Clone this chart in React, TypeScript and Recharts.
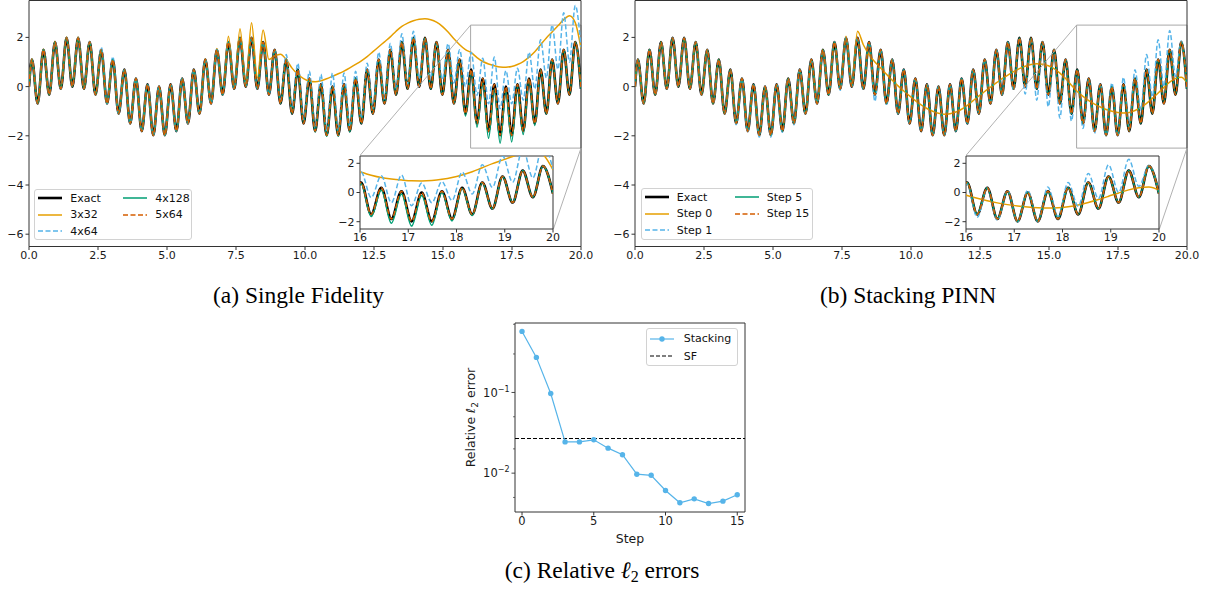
import React from "react";
import { LineChart, Line, XAxis, YAxis, ReferenceArea, ReferenceLine, Legend } from "recharts";

// ---------- data ----------
// x positions of the samples: t = 0, then every crest / trough of the fast wave
const tGrid = [
  0,
  0.105, 0.314, 0.524, 0.733, 0.942, 1.152, 1.361, 1.571, 1.78, 1.99,
  2.199, 2.409, 2.618, 2.827, 3.037, 3.246, 3.456, 3.665, 3.875, 4.084,
  4.294, 4.503, 4.712, 4.922, 5.131, 5.341, 5.55, 5.76, 5.969, 6.178,
  6.388, 6.597, 6.807, 7.016, 7.226, 7.435, 7.645, 7.854, 8.063, 8.273,
  8.482, 8.692, 8.901, 9.111, 9.32, 9.53, 9.739, 9.948, 10.158, 10.367,
  10.577, 10.786, 10.996, 11.205, 11.414, 11.624, 11.833, 12.043, 12.252, 12.462,
  12.671, 12.881, 13.09, 13.299, 13.509, 13.718, 13.928, 14.137, 14.347, 14.556,
  14.765, 14.975, 15.184, 15.394, 15.603, 15.813, 16.022, 16.232, 16.441, 16.65,
  16.86, 17.069, 17.279, 17.488, 17.698, 17.907, 18.117, 18.326, 18.535, 18.745,
  18.954, 19.164, 19.373, 19.583, 19.792, 20.0,
];

const exact = [
  0,
  1.1, -0.69, 1.5, -0.33, 1.81, -0.09, 1.98, 0.0, 1.98, -0.09,
  1.81, -0.33, 1.5, -0.69, 1.1, -1.1, 0.69, -1.5, 0.33, -1.81,
  0.09, -1.98, 0.0, -1.98, 0.09, -1.81, 0.33, -1.5, 0.69, -1.1,
  1.1, -0.69, 1.5, -0.33, 1.81, -0.09, 1.98, 0.0, 1.98, -0.09,
  1.81, -0.33, 1.5, -0.69, 1.1, -1.1, 0.69, -1.5, 0.33, -1.81,
  0.09, -1.98, 0.0, -1.98, 0.09, -1.81, 0.33, -1.5, 0.69, -1.1,
  1.1, -0.69, 1.5, -0.33, 1.81, -0.09, 1.98, 0.0, 1.98, -0.09,
  1.81, -0.33, 1.5, -0.69, 1.1, -1.1, 0.69, -1.5, 0.33, -1.81,
  0.09, -1.98, 0.0, -1.98, 0.09, -1.81, 0.33, -1.5, 0.69, -1.1,
  1.1, -0.69, 1.5, -0.33, 1.81, -0.09,
];

// (a) single fidelity
const sf3x32 = [
  0,
  1.12, -0.69, 1.52, -0.33, 1.84, -0.09, 2.02, 0.0, 2.02, -0.09,
  1.83, -0.33, 1.52, -0.69, 1.1, -1.1, 0.69, -1.5, 0.33, -1.81,
  0.09, -1.98, 0.0, -1.98, 0.09, -1.81, 0.33, -1.5, 0.69, -1.1,
  1.12, -0.69, 1.55, -0.33, 2.05, -0.05, 2.35, 0.15, 2.6, 0.35,
  2.3, 1.1, 1.25, 1.32, 1.1, 0.75, 0.5, 0.32, 0.22, 0.2,
  0.24, 0.32, 0.42, 0.52, 0.63, 0.76, 0.9, 1.05, 1.22, 1.42,
  1.62, 1.82, 2.02, 2.25, 2.45, 2.58, 2.68, 2.74, 2.76, 2.72,
  2.62, 2.45, 2.22, 1.95, 1.7, 1.5, 1.38, 1.18, 1.02, 0.92,
  0.85, 0.8, 0.79, 0.82, 0.9, 1.02, 1.2, 1.42, 1.7, 1.98,
  2.22, 2.47, 2.72, 2.88, 2.6, 1.55,
];

const sf4x64 = [
  0,
  1.1, -0.69, 1.5, -0.33, 1.81, -0.09, 1.98, 0.0, 1.98, -0.09,
  1.81, -0.33, 1.6, -0.69, 1.22, -1.1, 0.69, -1.5, 0.33, -1.81,
  0.09, -1.98, 0.0, -1.98, 0.09, -1.81, 0.33, -1.5, 0.69, -1.1,
  1.1, -0.69, 1.5, -0.33, 1.81, -0.09, 1.98, 0.0, 1.98, -0.09,
  1.81, -0.33, 1.5, -0.6, 1.3, -0.95, 0.95, -1.35, 0.62, -1.7,
  0.5, -1.85, 0.55, -1.85, 0.55, -1.65, 0.62, -1.3, 0.95, -0.9,
  1.4, -0.5, 1.75, -0.15, 2.15, 0.1, 2.25, 0.3, 1.95, 0.35,
  1.7, 0.3, 1.75, 0.15, 1.5, 0.0, 1.4, -0.35, 1.15, -0.7,
  1.2, -0.9, 0.65, -0.7, 0.75, -0.55, 1.4, -0.1, 1.9, 0.35,
  2.5, 0.7, 3.0, 1.0, 3.3, 1.6,
];

const sf4x128 = [
  0,
  1.1, -0.69, 1.5, -0.33, 1.81, -0.09, 1.98, 0.0, 1.98, -0.09,
  1.81, -0.33, 1.5, -0.69, 1.1, -1.1, 0.69, -1.5, 0.33, -1.81,
  0.09, -1.98, 0.0, -1.98, 0.09, -1.81, 0.33, -1.5, 0.69, -1.1,
  1.1, -0.69, 1.5, -0.33, 1.81, -0.09, 1.98, 0.0, 1.98, -0.09,
  1.81, -0.33, 1.5, -0.69, 1.1, -1.1, 0.69, -1.5, 0.33, -1.85,
  0.09, -2.02, 0.0, -2.02, 0.09, -1.85, 0.33, -1.5, 0.69, -1.1,
  1.1, -0.69, 1.5, -0.33, 1.81, -0.09, 1.98, 0.0, 1.98, -0.09,
  1.81, -0.33, 1.5, -0.69, 1.05, -1.2, 0.6, -1.65, 0.15, -2.1,
  -0.1, -2.3, -0.2, -2.25, 0.0, -1.95, 0.28, -1.58, 0.66, -1.12,
  1.1, -0.69, 1.5, -0.33, 1.81, -0.09,
];

// 5x64 lies on the exact curve over the whole range
const sf5x64 = exact;

// (b) stacking PINN
const stackStep0 = [
  0,
  1.1, -0.69, 1.5, -0.33, 1.81, -0.09, 1.98, 0.0, 1.98, -0.09,
  1.81, -0.33, 1.5, -0.69, 1.1, -1.1, 0.69, -1.5, 0.33, -1.81,
  0.09, -1.98, 0.0, -1.98, 0.09, -1.81, 0.33, -1.5, 0.69, -1.1,
  1.1, -0.69, 1.5, -0.33, 1.81, -0.09, 2.05, 0.1, 2.25, 1.7,
  1.3, 1.0, 0.76, 0.5, 0.26, 0.03, -0.18, -0.38, -0.57, -0.74,
  -0.89, -1.0, -1.08, -1.12, -1.1, -1.03, -0.92, -0.76, -0.57, -0.38,
  -0.2, -0.02, 0.15, 0.32, 0.47, 0.61, 0.73, 0.83, 0.9, 0.93,
  0.91, 0.85, 0.73, 0.55, 0.33, 0.05, -0.2, -0.4, -0.57, -0.71,
  -0.83, -0.93, -1.0, -1.05, -1.07, -1.05, -0.97, -0.85, -0.68, -0.48,
  -0.26, -0.03, 0.18, 0.33, 0.38, 0.15,
];

const stackStep1 = [
  0,
  1.1, -0.69, 1.5, -0.33, 1.81, -0.09, 1.98, 0.0, 1.98, -0.09,
  1.81, -0.33, 1.5, -0.69, 1.1, -1.1, 0.69, -1.55, 0.33, -1.86,
  0.09, -2.05, 0.0, -2.05, 0.09, -1.86, 0.33, -1.55, 0.69, -1.1,
  1.1, -0.69, 1.5, -0.33, 1.81, -0.15, 1.98, 0.0, 1.98, -0.09,
  1.81, -0.6, 1.5, -0.72, 1.1, -1.1, 0.69, -1.5, 0.33, -1.81,
  0.09, -1.98, 0.0, -1.98, 0.09, -1.81, 0.33, -1.5, 0.69, -1.1,
  1.1, -0.69, 1.5, -0.33, 1.81, -0.15, 1.98, -0.3, 1.98, -0.55,
  1.81, -0.82, 1.5, -1.28, 1.1, -1.4, 0.62, -1.7, 0.3, -1.9,
  0.12, -2.0, 0.15, -2.0, 0.38, -1.65, 0.68, -0.95, 1.3, -0.42,
  1.9, 0.0, 2.28, 0.42, 1.85, -0.05,
];

// step 5 and step 15 sit on the exact curve
const stackStep5 = exact;
const stackStep15 = exact;

// (c) relative l2 errors
const steps = [0, 1, 2, 3, 4, 5, 6, 7, 8, 9, 10, 11, 12, 13, 14, 15];
const stackingErr = [
  0.571, 0.272, 0.097, 0.0244, 0.0244, 0.0259, 0.0204, 0.0169, 0.0097, 0.0094, 0.0061, 0.0043, 0.0048,
  0.0042, 0.0045, 0.0054,
];
const sfErr = 0.0269;

const mainXTicks = [0, 2.5, 5, 7.5, 10, 12.5, 15, 17.5, 20];
const mainYTicks = [-6, -4, -2, 0, 2];
const insetXTicks = [16, 17, 18, 19, 20];
const insetYTicks = [-2, 0, 2];
const stepTicks = [0, 5, 10, 15];
const logMajor = [0.01, 0.1];
const logTicks = [
  0.004, 0.005, 0.006, 0.007, 0.008, 0.009, 0.01, 0.02, 0.03, 0.04, 0.05, 0.06, 0.07, 0.08, 0.09, 0.1,
  0.2, 0.3, 0.4, 0.5, 0.6, 0.7,
];

// ---------- styling ----------
const FRAME = "#333";
const ZOOM_GRAY = "#a8a8a8";
const TICK_FONT = { fontSize: 11, fill: "#1a1a1a", fontFamily: "DejaVu Sans" };

type Series = { key: string; name: string; color: string; width: number; dash?: string; marker?: boolean };

const seriesA: Series[] = [
  { key: "exact", name: "Exact", color: "#000000", width: 2.6 },
  { key: "s1", name: "3x32", color: "#E69F00", width: 1.5 },
  { key: "s2", name: "4x64", color: "#56B4E9", width: 1.5, dash: "5 2.5" },
  { key: "s3", name: "4x128", color: "#009E73", width: 1.5 },
  { key: "s4", name: "5x64", color: "#D55E00", width: 1.5, dash: "5 2.5" },
];
const seriesB: Series[] = [
  { key: "exact", name: "Exact", color: "#000000", width: 2.6 },
  { key: "s1", name: "Step 0", color: "#E69F00", width: 1.5 },
  { key: "s2", name: "Step 1", color: "#56B4E9", width: 1.5, dash: "5 2.5" },
  { key: "s3", name: "Step 5", color: "#009E73", width: 1.5 },
  { key: "s4", name: "Step 15", color: "#D55E00", width: 1.5, dash: "5 2.5" },
];

const rowsA = tGrid.map((t, i) => ({ t, exact: exact[i], s1: sf3x32[i], s2: sf4x64[i], s3: sf4x128[i], s4: sf5x64[i] }));
const rowsB = tGrid.map((t, i) => ({
  t,
  exact: exact[i],
  s1: stackStep0[i],
  s2: stackStep1[i],
  s3: stackStep5[i],
  s4: stackStep15[i],
}));
const rowsC = steps.map((s, i) => ({ step: s, err: stackingErr[i] }));

const signed = (v: number) => (v < 0 ? `\u2212${Math.abs(v)}` : `${v}`);

// layout of the two big panels
const MAIN_TOP = 0.5;
const MAIN_W = 552;
const MAIN_H = 246;
const MAIN_YW = 28;
const MAIN_XH = 24;
const MAIN_RIGHT = 16;
const INSET_DX = 331;
const INSET_TOP = 155.5;
const INSET_W = 193;
const INSET_H = 73;
const INSET_YW = 30;
const INSET_XH = 18;

type LegendSpec = {
  cols: Series[][];
  colX: number[];
  textX: number;
  rowH: number;
  padTop: number;
  w: number;
  h: number;
};

function LegendBox({ spec }: { spec: LegendSpec }) {
  return (
    <div
      style={{
        position: "relative",
        width: spec.w,
        height: spec.h,
        boxSizing: "border-box",
        border: "1px solid #d2d2d2",
        borderRadius: 3,
        background: "rgba(255,255,255,0.85)",
        fontFamily: "DejaVu Sans",
        fontSize: 11,
        color: "#111",
      }}
    >
      {spec.cols.map((col, ci) =>
        col.map((s, ri) => (
          <div
            key={s.name}
            style={{
              position: "absolute",
              left: spec.colX[ci],
              top: spec.padTop + ri * spec.rowH,
              height: spec.rowH,
              display: "flex",
              alignItems: "center",
              whiteSpace: "nowrap",
            }}
          >
            <svg width={24} height={10} style={{ display: "block" }}>
              <line x1={0} x2={24} y1={5} y2={5} stroke={s.color} strokeWidth={s.width} strokeDasharray={s.dash} />
              {s.marker && <circle cx={12} cy={5} r={2.7} fill={s.color} />}
            </svg>
            <span style={{ marginLeft: spec.textX - 24, lineHeight: 1 }}>{s.name}</span>
          </div>
        ))
      )}
    </div>
  );
}

function seriesLines(series: Series[]) {
  return series.map((s) => (
    <Line
      key={s.key}
      type="monotone"
      dataKey={s.key}
      stroke={s.color}
      strokeWidth={s.width}
      strokeDasharray={s.dash}
      dot={false}
      activeDot={false}
      isAnimationActive={false}
    />
  ));
}

function MainPanel({
  plotLeft,
  rows,
  series,
  legend,
  legendLeft,
  legendTop,
}: {
  plotLeft: number;
  rows: any[];
  series: Series[];
  legend: LegendSpec;
  legendLeft: number;
  legendTop: number;
}) {
  const insetLeft = plotLeft + INSET_DX;
  return (
    <>
      <div style={{ position: "absolute", left: plotLeft - MAIN_YW, top: 0 }}>
        <LineChart
          width={MAIN_YW + MAIN_W + MAIN_RIGHT}
          height={MAIN_TOP + MAIN_H + MAIN_XH}
          data={rows}
          margin={{ top: MAIN_TOP, right: MAIN_RIGHT, bottom: 0, left: 0 }}
        >
          <XAxis
            dataKey="t"
            type="number"
            domain={[0, 20]}
            ticks={mainXTicks}
            allowDataOverflow
            height={MAIN_XH}
            tickSize={3.5}
            tickMargin={1}
            axisLine={false}
            stroke={FRAME}
            tick={TICK_FONT}
            tickFormatter={(v: number) => v.toFixed(1)}
          />
          <YAxis
            type="number"
            domain={[-6.5, 3.5]}
            ticks={mainYTicks}
            allowDataOverflow
            width={MAIN_YW}
            tickSize={3.5}
            tickMargin={2}
            axisLine={false}
            stroke={FRAME}
            tick={TICK_FONT}
            tickFormatter={signed}
          />
          {seriesLines(series)}
          <ReferenceArea x1={16} x2={20} y1={-2.5} y2={2.5} fill="none" stroke={ZOOM_GRAY} strokeWidth={1} />
          <ReferenceLine
            segment={[
              { x: 16, y: 2.5 },
              { x: 12, y: -2.79 },
            ]}
            stroke={ZOOM_GRAY}
            strokeWidth={0.9}
          />
          <ReferenceLine
            segment={[
              { x: 20, y: -2.5 },
              { x: 19, y: -5.79 },
            ]}
            stroke={ZOOM_GRAY}
            strokeWidth={0.9}
          />
          <ReferenceArea x1={0} x2={20} y1={-6.5} y2={3.5} fill="none" stroke={FRAME} strokeWidth={1} />
          <Legend
            layout="vertical"
            align="center"
            verticalAlign="middle"
            width={legend.w}
            height={legend.h}
            wrapperStyle={{ left: legendLeft - plotLeft + MAIN_YW, top: legendTop, width: legend.w, height: legend.h }}
            content={() => <LegendBox spec={legend} />}
          />
        </LineChart>
      </div>
      <div style={{ position: "absolute", left: insetLeft - INSET_YW, top: INSET_TOP - 3 }}>
        <LineChart
          width={INSET_YW + INSET_W + 10}
          height={3 + INSET_H + INSET_XH}
          data={rows}
          margin={{ top: 3, right: 10, bottom: 0, left: 0 }}
        >
          <XAxis
            dataKey="t"
            type="number"
            domain={[16, 20]}
            ticks={insetXTicks}
            allowDataOverflow
            height={INSET_XH}
            tickSize={3.5}
            tickMargin={1}
            axisLine={false}
            stroke={FRAME}
            tick={TICK_FONT}
          />
          <YAxis
            type="number"
            domain={[-2.5, 2.5]}
            ticks={insetYTicks}
            allowDataOverflow
            width={INSET_YW}
            tickSize={3.5}
            tickMargin={2}
            axisLine={false}
            stroke={FRAME}
            tick={TICK_FONT}
            tickFormatter={signed}
          />
          {seriesLines(series)}
          <ReferenceArea x1={16} x2={20} y1={-2.5} y2={2.5} fill="none" stroke={FRAME} strokeWidth={1} />
        </LineChart>
      </div>
    </>
  );
}

const legendA: LegendSpec = {
  cols: [seriesA.slice(0, 3), seriesA.slice(3)],
  colX: [3, 88],
  textX: 32,
  rowH: 16.3,
  padTop: 0,
  w: 158,
  h: 51,
};
const legendB: LegendSpec = {
  cols: [seriesB.slice(0, 3), seriesB.slice(3)],
  colX: [3, 93],
  textX: 32,
  rowH: 16.3,
  padTop: 0,
  w: 172,
  h: 52,
};
const seriesC: Series[] = [
  { key: "err", name: "Stacking", color: "#56B4E9", width: 1.2, marker: true },
  { key: "sf", name: "SF", color: "#000000", width: 1.2, dash: "4 2" },
];
const legendC: LegendSpec = {
  cols: [seriesC],
  colX: [3],
  textX: 34,
  rowH: 17.3,
  padTop: 1.5,
  w: 92,
  h: 38.5,
};

// log-axis tick: long tick + 10^k label for decades, short tick otherwise
function LogTick(props: any) {
  const { x, y, payload } = props;
  const v = payload.value as number;
  const major = logMajor.includes(v);
  const exp = Math.round(Math.log10(v));
  return (
    <g>
      <line x1={x - (major ? 3.5 : 2)} x2={x} y1={y} y2={y} stroke={FRAME} strokeWidth={major ? 0.9 : 0.7} />
      {major && (
        <text x={x - 5.5} y={y} dy="0.36em" textAnchor="end" fontSize={11.5} fontFamily="DejaVu Sans" fill="#1a1a1a">
          10
          <tspan dy={-5} fontSize={8}>
            {`\u2212${Math.abs(exp)}`}
          </tspan>
        </text>
      )}
    </g>
  );
}

const C_PLOT_LEFT = 514.5;
const C_PLOT_TOP = 322.5;
const C_W = 230;
const C_H = 189;
const C_YW = 62;
const C_XH = 36;

function ErrorPanel() {
  const chartLeft = C_PLOT_LEFT - C_YW;
  const chartTop = C_PLOT_TOP - 10;
  return (
    <div style={{ position: "absolute", left: chartLeft, top: chartTop }}>
      <LineChart width={C_YW + C_W + 10} height={10 + C_H + C_XH} data={rowsC} margin={{ top: 10, right: 10, bottom: 0, left: 0 }}>
        <XAxis
          dataKey="step"
          type="number"
          domain={[-0.49, 15.54]}
          ticks={stepTicks}
          allowDataOverflow
          height={C_XH}
          tickSize={3.5}
          tickMargin={1}
          axisLine={false}
          stroke={FRAME}
          tick={{ ...TICK_FONT, fontSize: 11.5 }}
          label={{
            content: (p: any) => (
              <text
                x={p.viewBox.x + p.viewBox.width / 2}
                y={p.viewBox.y + 31}
                textAnchor="middle"
                fontSize={12.5}
                fontFamily="DejaVu Sans"
                fill="#1a1a1a"
              >
                Step
              </text>
            ),
          }}
        />
        <YAxis
          type="number"
          scale="log"
          domain={[0.0033, 0.726]}
          ticks={logTicks}
          allowDataOverflow
          width={C_YW}
          tickSize={0}
          tickMargin={0}
          tickLine={false}
          axisLine={false}
          tick={LogTick}
          label={{
            content: (p: any) => {
              const cx = p.viewBox.x + 22;
              const cy = p.viewBox.y + p.viewBox.height / 2;
              return (
                <text
                  x={cx}
                  y={cy}
                  transform={`rotate(-90, ${cx}, ${cy})`}
                  textAnchor="middle"
                  fontSize={12.5}
                  fontFamily="DejaVu Sans"
                  fill="#1a1a1a"
                >
                  Relative <tspan fontStyle="italic">ℓ</tspan>
                  <tspan dy={3} fontSize={9}>
                    2
                  </tspan>
                  <tspan dy={-3}> error</tspan>
                </text>
              );
            },
          }}
        />
        <ReferenceLine y={sfErr} stroke="#000" strokeDasharray="4 2" strokeWidth={1.2} />
        <Line
          type="linear"
          dataKey="err"
          stroke="#56B4E9"
          strokeWidth={1.2}
          dot={{ r: 2.7, fill: "#56B4E9", stroke: "#56B4E9", strokeWidth: 0 }}
          activeDot={false}
          isAnimationActive={false}
        />
        <ReferenceArea x1={-0.49} x2={15.54} y1={0.0033} y2={0.726} fill="none" stroke={FRAME} strokeWidth={1} />
        <Legend
          layout="vertical"
          align="center"
          verticalAlign="middle"
          width={legendC.w}
          height={legendC.h}
          wrapperStyle={{ left: 645.7 - chartLeft, top: 327.7 - chartTop, width: legendC.w, height: legendC.h }}
          content={() => <LegendBox spec={legendC} />}
        />
      </LineChart>
    </div>
  );
}

const captionStyle: React.CSSProperties = {
  position: "absolute",
  width: 320,
  textAlign: "center",
  fontFamily: "'Liberation Serif', 'Times New Roman', serif",
  fontSize: 23.5,
  lineHeight: "23.5px",
  color: "#000",
  whiteSpace: "nowrap",
};

export default function App() {
  return (
    <div
      style={{
        position: "absolute",
        left: 0,
        top: 0,
        width: 1208,
        height: 596,
        background: "#fff",
        overflow: "hidden",
        fontFamily: "DejaVu Sans",
      }}
    >
      <MainPanel plotLeft={28.5} rows={rowsA} series={seriesA} legend={legendA} legendLeft={34.3} legendTop={189.3} />
      <MainPanel plotLeft={634.5} rows={rowsB} series={seriesB} legend={legendB} legendLeft={640.7} legendTop={188.3} />
      <ErrorPanel />
      <div style={{ ...captionStyle, left: 298.5 - 160, top: 283.6 }}>(a) Single Fidelity</div>
      <div style={{ ...captionStyle, left: 908 - 160, top: 283.6 }}>(b) Stacking PINN</div>
      <div style={{ ...captionStyle, left: 602 - 160, top: 558.6 }}>
        (c) Relative <i>ℓ</i>
        <sub style={{ fontSize: 16, verticalAlign: "-4px", lineHeight: 0 }}>2</sub> errors
      </div>
    </div>
  );
}
